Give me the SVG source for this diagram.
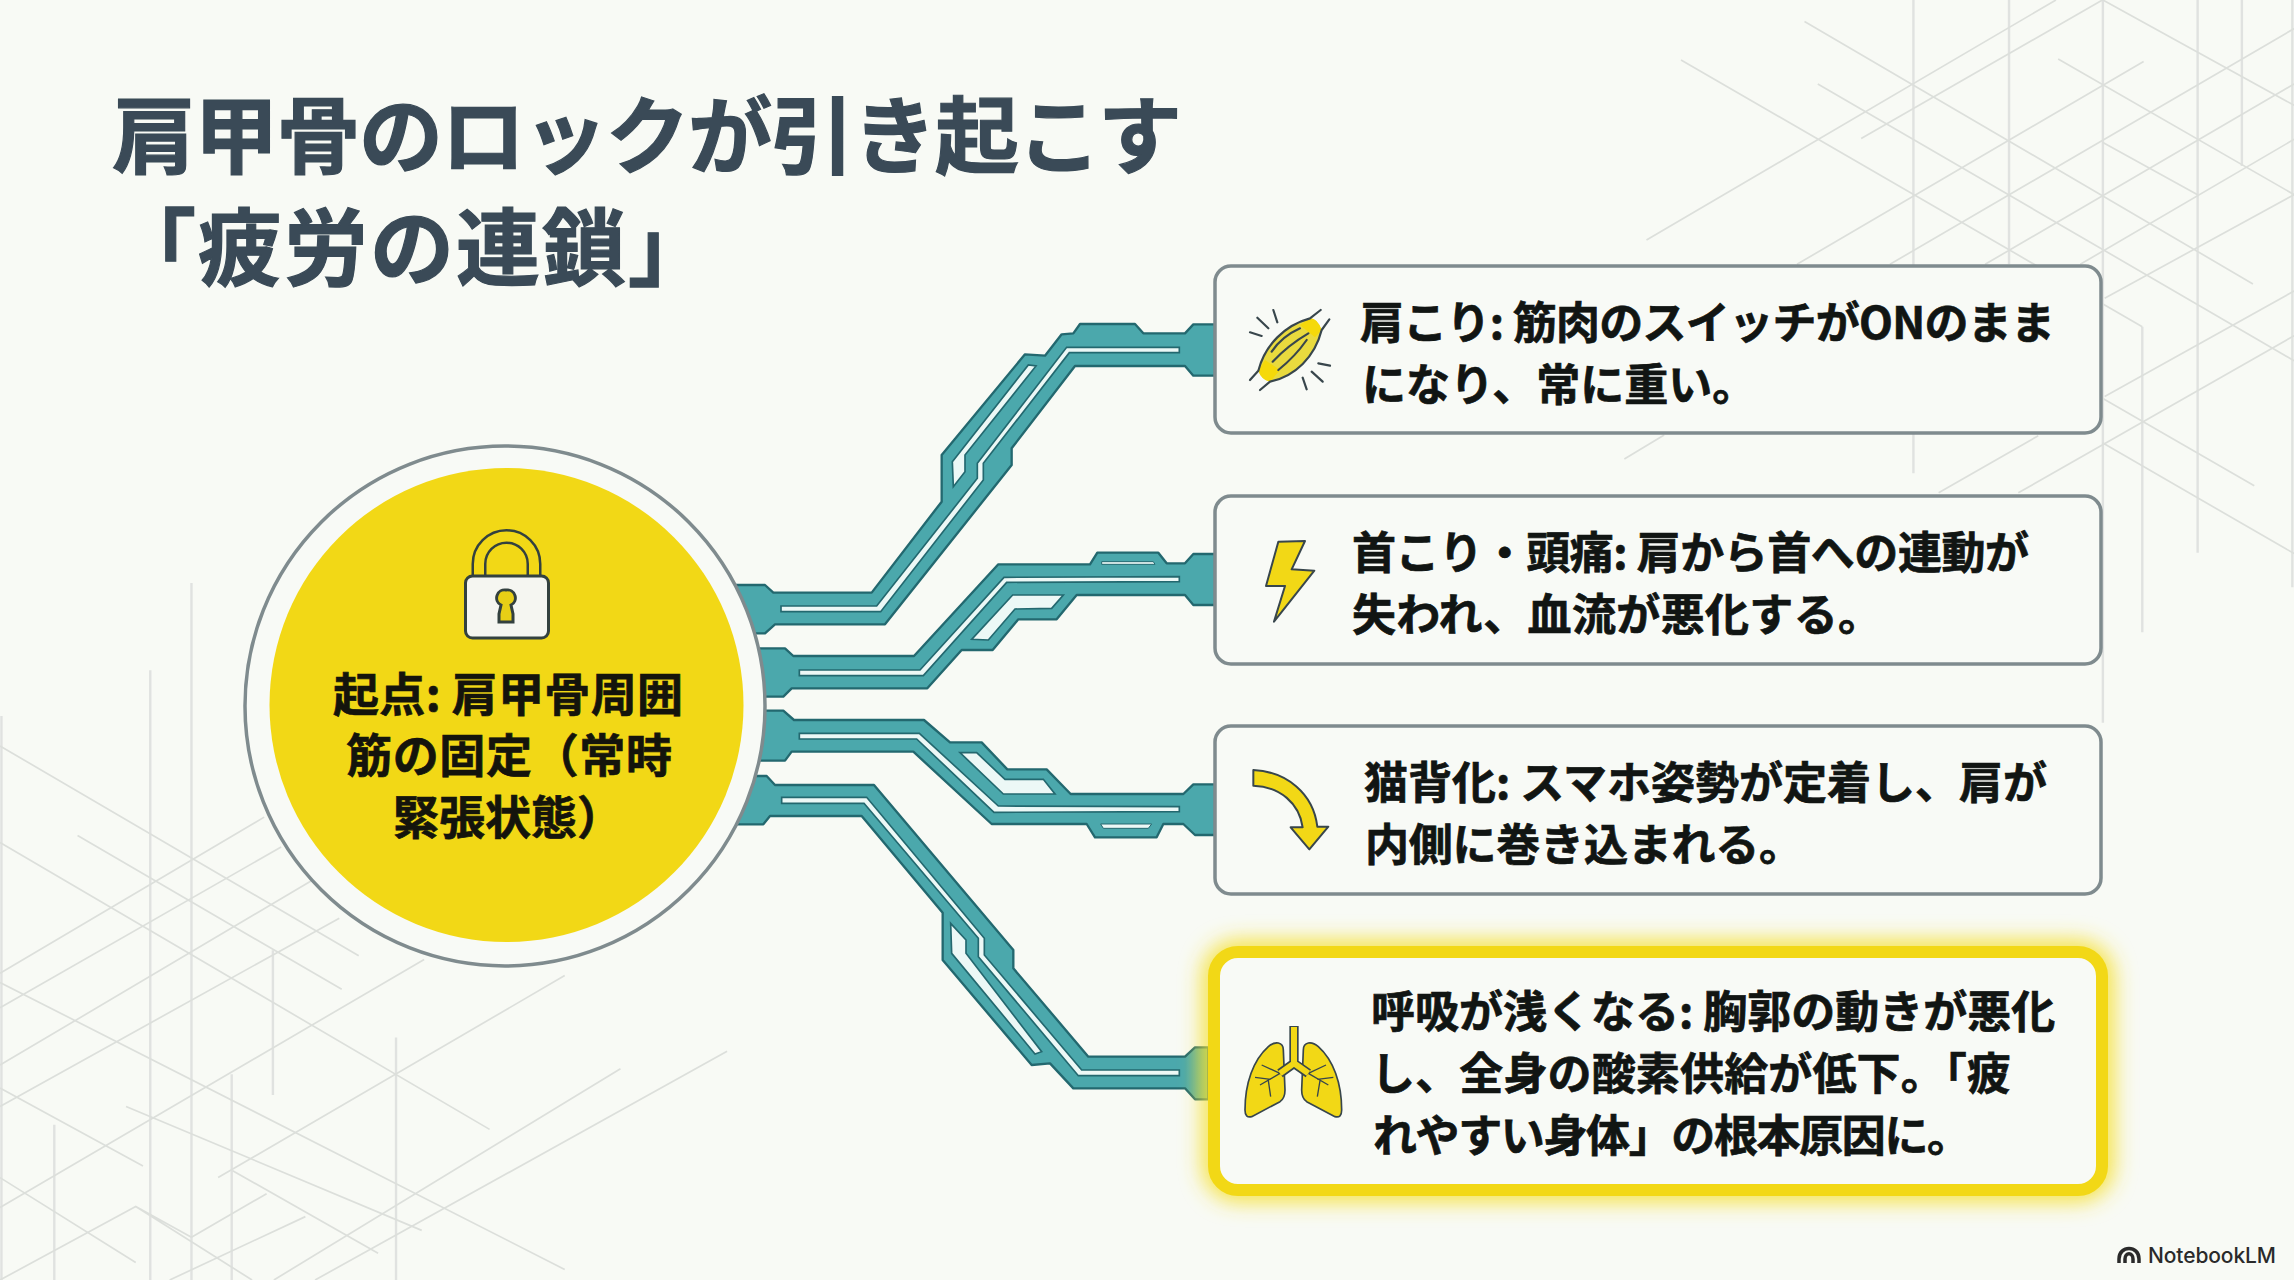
<svg xmlns="http://www.w3.org/2000/svg" width="2294" height="1280" viewBox="0 0 2294 1280">
<style>
.bg{fill:none;stroke:#dcdfdb;stroke-width:1.7;vector-effect:non-scaling-stroke}
.bgv{fill:none;stroke:#e0e2e0;stroke-width:2.4;vector-effect:non-scaling-stroke}
.tr{fill:#4ba8ac;stroke:#23686f;stroke-width:7;stroke-linejoin:round}
.sl{fill:#ecf8f6;stroke:#23686f;stroke-width:5;stroke-linejoin:miter}
.card{fill:#f8faf6;stroke:#7f8b8e;stroke-width:3.500}
text{font-family:"Noto Sans CJK JP","Noto Sans",sans-serif;font-weight:700}
.t{font-size:44px;fill:#111513;stroke:#111513;stroke-width:.7}
.c{font-size:46px;fill:#14140c;stroke:#14140c;stroke-width:.7}
.h{fill:#3a4a57;stroke:#3a4a57;stroke-width:1.2}
.ic{stroke:#38464c;stroke-linejoin:round;stroke-linecap:round}
</style>
<defs>
<filter id="glow" x="-10%" y="-20%" width="120%" height="140%"><feGaussianBlur stdDeviation="11"/></filter>
<linearGradient id="fade" gradientUnits="userSpaceOnUse" x1="1395" y1="0" x2="1465" y2="0"><stop offset="0" stop-color="#4ba8ac"/><stop offset="1" stop-color="#84bd80"/></linearGradient>
</defs>
<rect width="2294" height="1280" fill="#f8faf5"/>
<g id="background-lines">
<g transform="translate(1600 0) scale(.44268 .35714)">
<path class="bgv" d="M708 0V1325M924 0V740M1136 0V2024M1350 0V1548M1450 0V465M1225 915V1770M1564 0V1644"/>
<path class="bg" d="M462 60L1475 795M183 168L1225 915M492 235L1568 1010M1035 165L1568 545M1136 0L1568 295M1135 398L1350 545M1135 1115L1478 1360M1135 1240L1568 1550M105 672L1030 0M590 388L1135 0M445 740L1228 172M655 740L1568 80M870 740L1568 235M1085 740L1568 390M1140 835L1568 545M1140 1110L1568 815M945 1380L1568 940M765 1380L990 1220M55 1285L145 1218"/>
</g>
<g transform="translate(0 560) scale(.48473 .45918)">
<path class="bgv" d="M395 50V1568M310 240V1568M3 340V1568M112 1230V1568M478 1120V1568M563 850V1165M817 1040V1568"/>
<path class="bg" d="M0 405L740 862M160 600L705 935M0 615L1010 1240M0 920L1165 1545M0 1150L295 1320M260 1190L870 1460M0 1345L280 1530M280 1408L520 1568M480 1330L780 1510M0 900L545 560M0 975L580 625M0 1100L720 650M0 1190L700 780M0 1410L875 870M395 1475L550 1380M395 1475L280 1408L0 1568M450 1345L1165 905M565 1568L1280 1108M650 1568L1500 1070M350 1568L630 1430"/>
</g>
</g>
<g id="title">
<text class="h" x="112" y="167" font-size="84" textLength="1070">肩甲骨のロックが引き起こす</text>
<text class="h" x="112" y="279" font-size="84" textLength="600">「疲労の連鎖」</text>
</g>
<g id="connectors">
<g transform="translate(720 290) scale(.33333)">
<path class="tr" d="M-60 885L135 885L160 908L455 908L665 635L665 495L915 193L975 197L1025 133L1060 130L1080 102L1245 102L1270 130L1395 130L1420 103L1485 103L1485 257L1420 257L1395 228L1065 228L875 475L875 525L495 1003L165 1003L135 1030L-60 1030Z"/>
<path class="sl" d="M183 948L470 948L772 565L772 520L1040 172L1378 172L1378 188L1048 188L790 520L790 570L482 965L183 965Z"/>
<path class="sl" d="M697 515L925 225L948 228L735 495L735 545L700 590Z"/>
<path class="tr" d="M0 1075L195 1075L220 1098L582 1098L835 823L1110 823L1132 788L1315 788L1340 820L1395 820L1420 792L1485 792L1485 945L1420 945L1395 915L1070 915L1010 988L895 988L818 1080L725 1080L622 1195L215 1195L190 1220L0 1220Z"/>
<path class="sl" d="M238 1140L600 1140L852 862L1378 860L1378 875L860 877L610 1157L238 1157Z"/>
<path class="sl" d="M755 1048L878 915L1030 915L995 955L885 957L805 1050Z"/>
<path class="sl" style="stroke-width:3" d="M1145 815L1300 815L1305 823L1145 823Z"/>
</g>
<g transform="translate(720 690) scale(.33333)">
<path class="tr" d="M0 62L190 62L222 90L612 90L690 157L785 157L862 238L980 238L1052 312L1390 312L1420 283L1485 283L1485 435L1425 435L1390 402L1330 402L1310 442L1125 442L1100 402L815 402L580 185L215 185L195 212L0 212Z"/>
<path class="sl" d="M238 130L598 130L835 348L1378 350L1378 365L822 367L590 147L238 147Z"/>
<path class="sl" d="M720 188L770 188L855 268L970 268L1005 312L850 312Z"/>
<path class="sl" style="stroke-width:3" d="M1142 402L1295 402L1285 415L1150 415Z"/>
<path class="tr" style="fill:url(#fade)" d="M-60 258L140 258L165 285L462 285L880 780L880 835L1105 1100L1395 1100L1425 1072L1465 1072L1465 1228L1425 1228L1395 1195L1060 1195L990 1120L935 1125L668 810L668 668L425 378L150 378L130 403L-60 403Z"/>
<path class="sl" d="M185 322L440 322L793 745L793 795L1085 1140L1378 1140L1378 1157L1075 1157L775 800L775 745L432 340L185 340Z"/>
<path class="sl" d="M692 700L738 750L738 790L965 1085L945 1092L695 790Z"/>
</g>
</g>
<g id="origin">
<circle cx="505" cy="706" r="260" fill="#f8faf6" stroke="#7f8b8e" stroke-width="3.500"/>
<circle cx="506.500" cy="705" r="237" fill="#f2d816"/>
<path d="M479 578V564A27.500 27.500 0 0 1 534 564V578" fill="none" stroke="#33413f" stroke-width="15"/>
<path d="M479 578V564A27.500 27.500 0 0 1 534 564V578" fill="none" stroke="#f2d816" stroke-width="10"/>
<rect x="465.500" y="576" width="83" height="62" rx="7" fill="#f5f6f1" stroke="#33413f" stroke-width="3"/>
<path d="M506 590a8 8 0 0 1 5 15l2 9v8h-14v-8l2-9a8 8 0 0 1 5-15Z" fill="#e8cf16" stroke="#33413f" stroke-width="3"/>
<text class="c" x="333" y="711" textLength="350">起点: 肩甲骨周囲</text>
<text class="c" x="346" y="772" textLength="326">筋の固定（常時</text>
<text class="c" x="393" y="834">緊張状態）</text>
</g>
<g id="card-1">
<rect class="card" x="1215" y="266" width="886" height="167" rx="16"/>
<g transform="translate(1200 250) scale(.33333)">
<path d="M175 362C195 285 255 225 330 205Q352 205 365 240C345 320 285 380 210 395Q185 390 175 362Z" fill="#e9da3e"/>
<path d="M330 205Q352 205 365 240L345 262L300 225ZM175 362Q185 390 210 395L240 360L195 330Z" fill="#f5d90a"/>
<path class="ic" fill="none" stroke-width="6.500" d="M150 390L175 362C195 285 255 225 330 205L362 180M180 420L210 395C285 380 345 320 365 240L388 208M215 305Q245 260 300 235M218 335Q265 285 325 250M235 360Q285 320 320 270M172 203L205 235M220 180L232 217M150 247L185 258M355 340L390 347M335 365L368 395M308 383L320 418"/>
</g>
<text class="t" x="1360" y="339" textLength="695">肩こり: 筋肉のスイッチがONのまま</text>
<text class="t" x="1362" y="401">になり、常に重い。</text>
</g>
<g id="card-2">
<rect class="card" x="1215" y="496" width="886" height="168" rx="16"/>
<path class="ic" transform="translate(1200 250) scale(.33333)" fill="#f2d816" stroke-width="6" d="M235 875L315 873L275 958L343 962L222 1115L255 1008L198 1008Z"/>
<text class="t" x="1352" y="569" textLength="677">首こり・頭痛: 肩から首への連動が</text>
<text class="t" x="1352" y="631" textLength="530">失われ、血流が悪化する。</text>
</g>
<g id="card-3">
<rect class="card" x="1215" y="726" width="886" height="168" rx="16"/>
<path class="ic" transform="translate(1200 720) scale(.33333)" fill="#f2d816" stroke-width="6" d="M160 150C260 155 340 220 352 320L385 320L328 388L272 322L308 322C298 250 240 200 160 197Z"/>
<text class="t" x="1364" y="799">猫背化: スマホ姿勢が定着し、肩が</text>
<text class="t" x="1365" y="861" textLength="438">内側に巻き込まれる。</text>
</g>
<g id="card-4">
<rect x="1214" y="952" width="888" height="238" rx="24" fill="none" stroke="#f5e030" stroke-width="22" filter="url(#glow)"/>
<rect x="1214" y="952" width="888" height="238" rx="24" fill="#f8faf6" stroke="#f2d816" stroke-width="12"/>
<g transform="translate(1200 720) scale(.33333)">
<path class="ic" fill="#f2d816" stroke-width="5" d="M250 990C250 965 225 962 205 980C160 1020 135 1090 135 1170Q135 1195 155 1190L240 1145Q255 1135 255 1110ZM310 990C310 965 335 962 355 980C400 1020 425 1090 425 1170Q425 1195 405 1190L320 1145Q305 1135 305 1110Z"/>
<path fill="none" stroke="#38464c" stroke-width="4" d="M240 1060L180 1095M240 1060L185 1035M212 1078L165 1072M205 1082L212 1130M325 1060L385 1095M325 1060L378 1035M352 1078L400 1072M360 1082L352 1130"/>
<path fill="none" stroke="#38464c" stroke-width="28" d="M282 918V1030L240 1060M282 1030L325 1060"/>
<path fill="none" stroke="#f2d816" stroke-width="18" d="M282 921V1030L240 1060M282 1030L325 1060"/>
</g>
<text class="t" x="1371" y="1028">呼吸が浅くなる: 胸郭の動きが悪化</text>
<text class="t" x="1371" y="1090" textLength="640">し、全身の酸素供給が低下。「疲</text>
<text class="t" x="1373" y="1152" textLength="598">れやすい身体」の根本原因に。</text>
</g>
<g id="watermark">
<path d="M2119 1263V1259C2119 1245 2139 1245 2139 1259V1263M2125 1263V1259C2125 1252 2133 1252 2133 1259V1263" fill="none" stroke="#2a2a2a" stroke-width="3.500"/>
<text x="2148" y="1263" font-size="21" textLength="128" style="font-family:Inter,sans-serif;font-weight:500" fill="#2a2a2a">NotebookLM</text>
</g>
</svg>
